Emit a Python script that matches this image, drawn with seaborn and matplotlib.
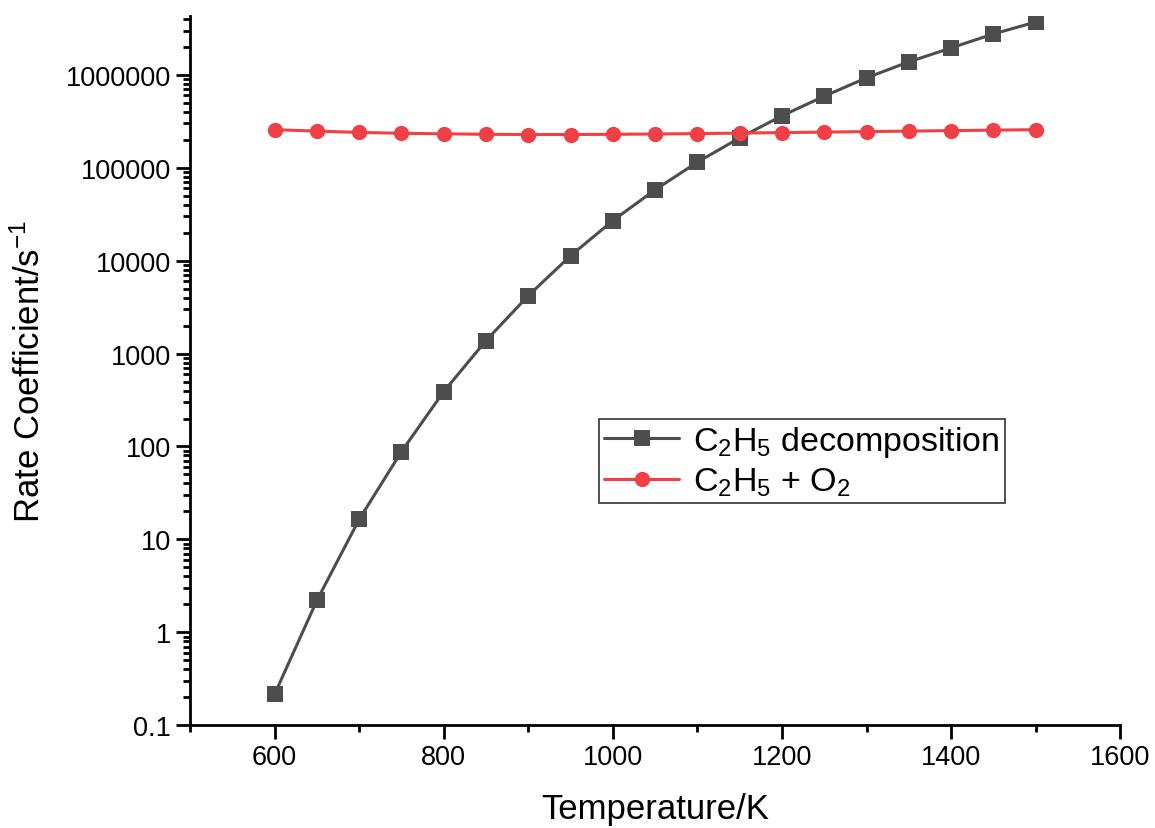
import numpy as np
import matplotlib
matplotlib.use("Agg")
import matplotlib.pyplot as plt
import matplotlib.ticker as mticker
import seaborn as sns
import pandas as pd

temperature = [600, 650, 700, 750, 800, 850, 900, 950, 1000, 1050,
               1100, 1150, 1200, 1250, 1300, 1350, 1400, 1450, 1500]
k_decomp = [0.215, 2.2, 16.4, 88, 390, 1380, 4200, 11300, 27000, 58000,
            115000, 210000, 363000, 590000, 930000, 1380000, 1950000, 2760000, 3700000]
k_o2 = [257000, 248000, 240000, 235000, 232000, 229000, 228000, 228000, 229000, 231000,
        233000, 236000, 239000, 242000, 245000, 248000, 251000, 254000, 257000]
series_names = [r"C$_2$H$_5$ decomposition", r"C$_2$H$_5$ + O$_2$"]
series_colors = ["#4d4d4d", "#f04045"]

df = pd.DataFrame({
    "T": temperature * 2,
    "k": k_decomp + k_o2,
    "series": [series_names[0]] * len(temperature) + [series_names[1]] * len(temperature),
})

sns.set_style("ticks")
plt.rcParams['font.family'] = ['Liberation Sans', 'DejaVu Sans']
plt.rcParams['mathtext.fontset'] = 'custom'
plt.rcParams['mathtext.rm'] = 'Liberation Sans'
plt.rcParams['mathtext.it'] = 'Liberation Sans'
plt.rcParams['text.color'] = 'black'
plt.rcParams['axes.labelcolor'] = 'black'
plt.rcParams['axes.edgecolor'] = 'black'

fig = plt.figure(figsize=(11.55, 8.29), dpi=100)
ax = fig.add_axes([0.1645, 0.124, 0.8055, 0.8555])

sns.lineplot(data=df, x="T", y="k", hue="series", style="series",
             palette=dict(zip(series_names, series_colors)),
             markers={series_names[0]: "s", series_names[1]: "o"},
             dashes=False, markersize=11, markeredgewidth=0, linewidth=2.2, ax=ax)

ax.set_yscale("log")
ax.set_xlim(500, 1600)
ax.set_ylim(0.1, 4.3e6)
ax.xaxis.set_major_locator(mticker.MultipleLocator(200))
ax.xaxis.set_minor_locator(mticker.MultipleLocator(100))
ax.yaxis.set_major_locator(mticker.LogLocator(base=10, numticks=20))
ax.yaxis.set_minor_locator(mticker.LogLocator(base=10, subs=np.arange(2, 10), numticks=20))
ax.yaxis.set_minor_formatter(mticker.NullFormatter())
ax.yaxis.set_major_formatter(mticker.FuncFormatter(lambda v, p: f"{v:.0f}" if v >= 1 else f"{v:g}"))

for s in ["top", "right"]:
    ax.spines[s].set_visible(False)
for s in ["left", "bottom"]:
    ax.spines[s].set_linewidth(2)
    ax.spines[s].set_color("black")
ax.tick_params(which="major", direction="out", length=10, width=2, labelsize=19.5,
               colors="black", labelcolor="black")
ax.tick_params(which="minor", direction="out", length=5, width=2, colors="black")

ax.set_xlabel("Temperature/K", fontsize=25, labelpad=16, color="black")
ax.set_ylabel(r"Rate Coefficient/s$^{-1}$", fontsize=25, labelpad=14, color="black")

leg = ax.legend(loc="lower left", bbox_to_anchor=(0.44, 0.313), fontsize=24.5,
                frameon=True, fancybox=False, edgecolor="#333333", framealpha=1,
                handlelength=2.2, handletextpad=0.4, borderpad=0.15, labelspacing=0.2,
                borderaxespad=0, labelcolor="black")
leg.get_frame().set_linewidth(1.2)

fig.savefig("out.png", dpi=100)
